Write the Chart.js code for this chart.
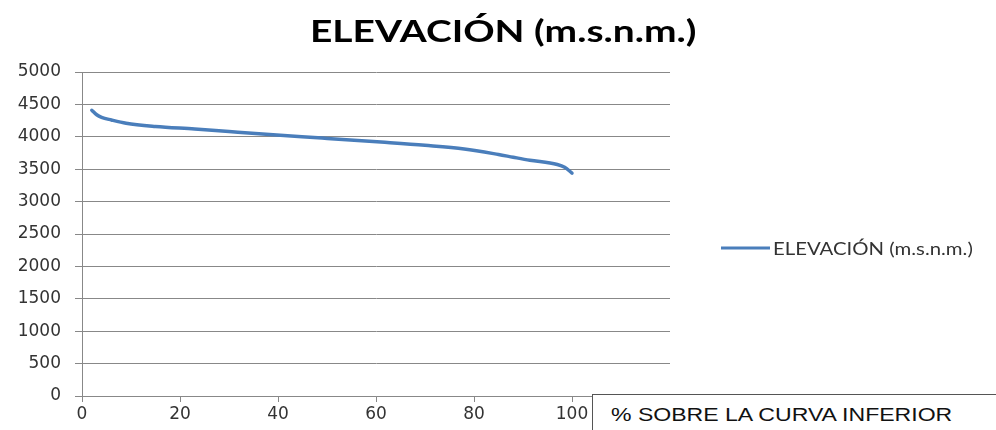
<!DOCTYPE html>
<html>
<head>
<meta charset="utf-8">
<script src="https://cdn.jsdelivr.net/npm/chart.js@4"></script>
<style>
  html, body { margin: 0; padding: 0; background: #fff; overflow: hidden; }
  #wrap { position: relative; width: 996px; height: 430px; overflow: hidden; }
  #title { position: absolute; left: 310px; top: 11px; line-height: 1; white-space: nowrap;
           font: bold 31px Lato, sans-serif; color: #000;
           transform: scaleX(1.255); transform-origin: left top; }
  #xbox { position: absolute; left: 592px; top: 394px; width: 404px; height: 36px;
          border-top: 1px solid #555; border-left: 1px solid #555; background: #fff; box-sizing: border-box; }
  #xtitle { position: absolute; left: 18px; top: 9px; line-height: 1; white-space: nowrap;
            font: 18.6px "Liberation Sans", Arial, sans-serif; color: #111;
            transform: scaleX(1.24); transform-origin: left top; }
</style>
</head>
<body>
<div id="wrap">
  <canvas id="c" width="996" height="430"></canvas>
  <div id="title">ELEVACIÓN (m.s.n.m.)</div>
  <div id="xbox"><div id="xtitle">% SOBRE LA CURVA INFERIOR</div></div>
</div>
<script>
// % of area above each elevation
const percent = [2, 3, 4, 6, 9, 15, 23, 30, 39, 49, 61, 70, 78, 85, 88, 91.4, 97, 98.5, 100];
// elevation in m.s.n.m.
const elevation = [4410, 4340, 4300, 4260, 4210, 4160, 4120, 4080, 4030, 3980, 3918, 3868, 3812, 3727, 3685, 3639, 3573, 3530, 3440];
const seriesName = 'ELEVACIÓN (m.s.n.m.)';
const xTicks = [0, 20, 40, 60, 80, 100, 120];
const yTicks = [0, 500, 1000, 1500, 2000, 2500, 3000, 3500, 4000, 4500, 5000];

const lineColor = '#4a7ebb';

// legend sits to the right, drawn by hand so it lands where the original has it
const legendPlugin = {
    id: 'sideLegend',
    afterDraw: (chart) => {
        const ctx = chart.ctx;
        ctx.save();
        ctx.strokeStyle = lineColor;
        ctx.lineWidth = 3;
        ctx.beginPath();
        ctx.moveTo(721, 248);
        ctx.lineTo(770, 248);
        ctx.stroke();
        ctx.fillStyle = '#333';
        ctx.font = '18px Lato, sans-serif';
        ctx.textBaseline = 'alphabetic';
        ctx.translate(773, 254.5);
        ctx.scale(1.13, 1);
        ctx.fillText(chart.data.datasets[0].label, 0, 0);
        ctx.restore();
    }
};

new Chart(document.getElementById('c').getContext('2d'), {
    type: 'line',
    data: {
        datasets: [{
            label: seriesName,
            data: percent.map((p, i) => ({ x: p, y: elevation[i] })),
            borderColor: lineColor,
            borderWidth: 3.5,
            pointRadius: 0,
            fill: false,
            cubicInterpolationMode: 'monotone',
            borderCapStyle: 'round'
        }]
    },
    options: {
        responsive: false,
        animation: false,
        layout: { padding: { top: 72, right: 326, bottom: 0, left: 0 } },
        plugins: {
            legend: { display: false },
            tooltip: { enabled: false },
            title: { display: false }
        },
        scales: {
            x: {
                type: 'linear',
                min: 0,
                max: 120,
                afterBuildTicks: (s) => { s.ticks = xTicks.map(v => ({ value: v })); },
                afterFit: (s) => { s.height = 34; },
                grid: { drawOnChartArea: false, drawTicks: true, tickLength: 6, color: '#888' },
                border: { color: '#888' },
                ticks: { color: '#333', font: { family: 'DejaVu Sans', size: 17 }, padding: 2, maxRotation: 0,
                         callback: (v) => String(v) }
            },
            y: {
                min: 0,
                max: 5000,
                afterBuildTicks: (s) => { s.ticks = yTicks.map(v => ({ value: v })); },
                afterFit: (s) => { s.width = 82; },
                grid: { color: '#888', tickLength: 7 },
                border: { color: '#888' },
                ticks: { color: '#333', font: { family: 'DejaVu Sans', size: 17 }, padding: 14,
                         callback: (v) => String(v) }
            }
        }
    },
    plugins: [legendPlugin]
});
</script>
</body>
</html>
